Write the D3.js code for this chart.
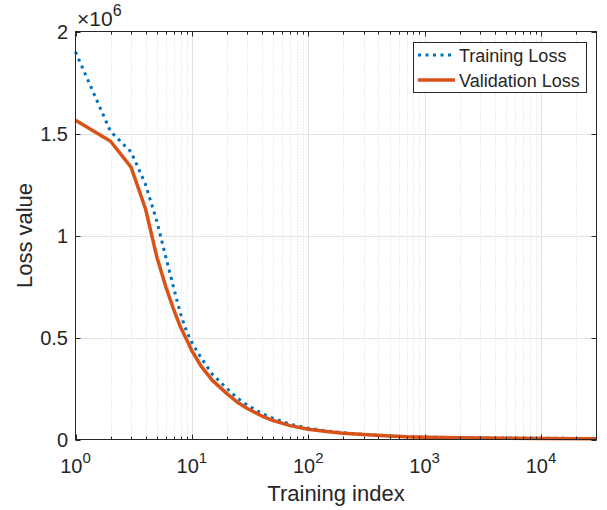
<!DOCTYPE html>
<html><head><meta charset="utf-8">
<script src="https://cdn.jsdelivr.net/npm/d3@7"></script>
<style>
body{margin:0;background:#fff;}
text{font-family:"Liberation Sans",Arial,Helvetica,sans-serif;fill:#262626;}
</style></head>
<body><svg id="c" width="607" height="510"></svg>
<script>
const indices = [1,2,3,4,5,6,7,8,9,10,12,15,20,25,30,40,50,70,100,150,200,300,500,700,1000,2000,5000,10000,30000];
const trainingLoss = [1.90e6,1.51e6,1.41e6,1.25e6,1.07e6,0.89e6,0.74e6,0.615e6,0.53e6,0.475e6,0.40e6,0.32e6,0.25e6,0.20e6,0.168e6,0.128e6,0.103e6,0.075e6,0.055e6,0.041e6,0.033e6,0.025e6,0.018e6,0.014e6,0.012e6,0.009e6,0.007e6,0.006e6,0.005e6];
const validationLoss = [1.565e6,1.462e6,1.335e6,1.13e6,0.895e6,0.745e6,0.635e6,0.55e6,0.49e6,0.435e6,0.36e6,0.29e6,0.225e6,0.18e6,0.152e6,0.115e6,0.093e6,0.068e6,0.05e6,0.038e6,0.031e6,0.024e6,0.017e6,0.013e6,0.011e6,0.008e6,0.006e6,0.005e6,0.004e6];
const yTicks = [0,0.5e6,1e6,1.5e6,2e6];
const yTickLabels = ["0","0.5","1","1.5","2"];
const xTicks = [1,10,100,1000,10000];
const xTickExps = ["0","1","2","3","4"];
const seriesNames = ["Training Loss","Validation Loss"];

const svg = d3.select("#c");
const L=75.5, R=596.5, T=31.5, B=439.5;
const x = d3.scaleLog().domain([1,30000]).range([L,R]);
const y = d3.scaleLinear().domain([0,2e6]).range([B,T]);
const axisCol="#262626";

const minor=[];
for(let d=1; d<=10000; d*=10) for(let k=2;k<=9;k++){ if(d*k<30000) minor.push(d*k); }

const g = svg.append("g");
g.selectAll(".mg").data(minor).enter().append("line")
 .attr("x1",d=>Math.round(x(d))+0.5).attr("x2",d=>Math.round(x(d))+0.5).attr("y1",T).attr("y2",B)
 .attr("stroke","#d2d2d2").attr("stroke-width",0.8).attr("stroke-dasharray","1,2");
g.selectAll(".gx").data(xTicks.slice(1)).enter().append("line")
 .attr("x1",d=>Math.round(x(d))+0.5).attr("x2",d=>Math.round(x(d))+0.5).attr("y1",T).attr("y2",B)
 .attr("stroke","#e3e3e3").attr("stroke-width",1);
g.selectAll(".gy").data(yTicks.slice(1,-1)).enter().append("line")
 .attr("y1",d=>Math.round(y(d))+0.5).attr("y2",d=>Math.round(y(d))+0.5).attr("x1",L).attr("x2",R)
 .attr("stroke","#e3e3e3").attr("stroke-width",1);

const line = d3.line().x(d=>x(d[0])).y(d=>y(d[1]));
svg.append("path").datum(indices.map((v,i)=>[v,trainingLoss[i]]))
 .attr("d",line).attr("fill","none").attr("stroke","#0072BD").attr("stroke-width",3)
 .attr("stroke-dasharray","3,4.5");
svg.append("path").datum(indices.map((v,i)=>[v,validationLoss[i]]))
 .attr("d",line).attr("fill","none").attr("stroke","#D95319").attr("stroke-width",3.5)
 .attr("stroke-linejoin","round");

svg.append("rect").attr("x",L).attr("y",T).attr("width",R-L).attr("height",B-T)
 .attr("fill","none").attr("stroke",axisCol).attr("stroke-width",1);

const xt = svg.append("g");
xTicks.forEach(d=>{
  const px=Math.round(x(d))+0.5;
  xt.append("line").attr("x1",px).attr("x2",px).attr("y1",B).attr("y2",B-5).attr("stroke",axisCol);
  xt.append("line").attr("x1",px).attr("x2",px).attr("y1",T).attr("y2",T+5).attr("stroke",axisCol);
});
minor.forEach(d=>{
  const px=Math.round(x(d))+0.5;
  xt.append("line").attr("x1",px).attr("x2",px).attr("y1",B).attr("y2",B-3).attr("stroke",axisCol);
  xt.append("line").attr("x1",px).attr("x2",px).attr("y1",T).attr("y2",T+3).attr("stroke",axisCol);
});
yTicks.forEach(d=>{
  const py=Math.round(y(d))+0.5;
  xt.append("line").attr("x1",L).attr("x2",L+5).attr("y1",py).attr("y2",py).attr("stroke",axisCol);
  xt.append("line").attr("x1",R).attr("x2",R-5).attr("y1",py).attr("y2",py).attr("stroke",axisCol);
});

xTicks.forEach((d,i)=>{
  const t=svg.append("text").attr("x",x(d)).attr("y",473).attr("text-anchor","middle").attr("font-size",20);
  t.append("tspan").text("10");
  t.append("tspan").attr("dy",-10).attr("font-size",15).text(xTickExps[i]);
});
yTicks.forEach((d,i)=>{
  svg.append("text").attr("x",68).attr("y",y(d)+7).attr("text-anchor","end").attr("font-size",20).text(yTickLabels[i]);
});
const ex=svg.append("text").attr("x",77).attr("y",26).attr("font-size",21);
ex.append("tspan").text("\u00d710");
ex.append("tspan").attr("dy",-10).attr("font-size",16).text("6");

svg.append("text").attr("x",(L+R)/2).attr("y",501).attr("text-anchor","middle").attr("font-size",22).text("Training index");
svg.append("text").attr("transform","translate(32,"+((T+B)/2)+") rotate(-90)").attr("text-anchor","middle").attr("font-size",22).text("Loss value");

const lg=svg.append("g");
lg.append("rect").attr("x",413.5).attr("y",42.5).attr("width",173).attr("height",50)
 .attr("fill","#fff").attr("stroke",axisCol).attr("stroke-width",1);
const cols=["#0072BD","#D95319"];
seriesNames.forEach((n,i)=>{
  const yy=55+i*25;
  const l=lg.append("line").attr("x1",418).attr("x2",455).attr("y1",yy).attr("y2",yy)
    .attr("stroke",cols[i]).attr("stroke-width",i?3.5:3);
  if(!i) l.attr("stroke-dasharray","3,4.5");
  lg.append("text").attr("x",459).attr("y",yy+6.5).attr("font-size",18).text(n);
});
</script></body></html>
